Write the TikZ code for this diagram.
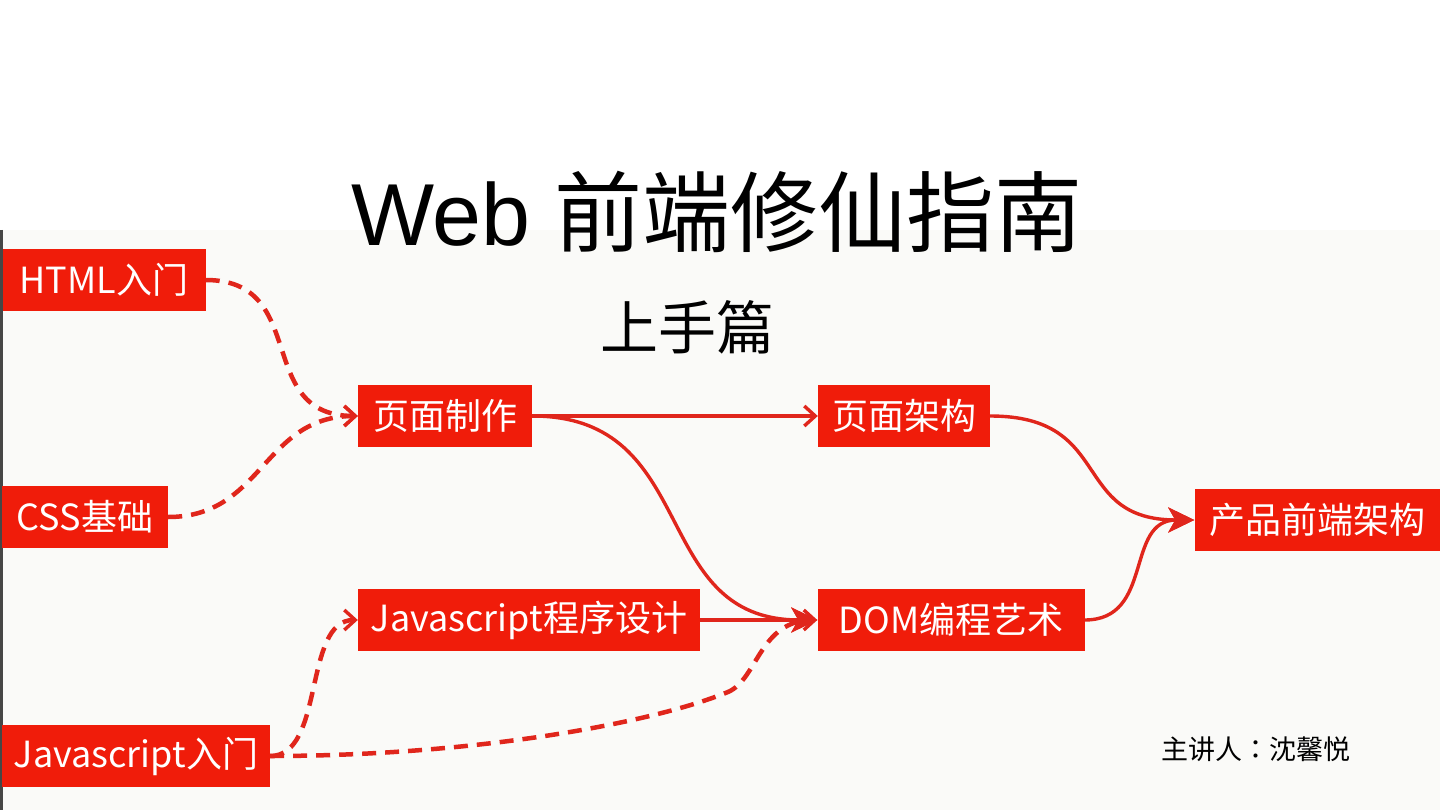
\documentclass[tikz,border=0pt]{standalone}
\usepackage{fontspec}
\setmainfont{Noto Sans CJK SC}
\newfontfamily\latinsans{Liberation Sans}
\newfontfamily\tcfont{Noto Sans CJK TC}
\usetikzlibrary{arrows.meta}
\definecolor{boxred}{RGB}{240,28,10}
\definecolor{linered}{RGB}{224,38,28}
\definecolor{bgpaper}{RGB}{250,250,248}
\definecolor{edgegray}{RGB}{70,70,70}
\begin{document}
\begin{tikzpicture}[x=1pt,y=-1pt,
  redbox/.style={fill=boxred, text=white, inner sep=0pt, minimum height=62pt,
    font=\fontsize{36}{40}\selectfont, anchor=center},
  solidlink/.style={draw=linered, line width=3.4pt},
  dashlink/.style={draw=linered, line width=4.5pt, dash pattern=on 14pt off 9pt},
  chev/.style={-{Straight Barb[length=11pt,width=20pt,line width=3.4pt]}},
  bigtip/.style={-{Stealth[length=26pt,width=25pt,inset=7pt]}}
]
\useasboundingbox (0,0) rectangle (1440,810);
\fill[white] (0,0) rectangle (1440,810);
\fill[bgpaper] (0,230) rectangle (1440,810);
\draw[edgegray, line width=3pt] (1.5,230) -- (1.5,810);

% titles
\node (title) at (717,212) {\fontsize{88}{100}\selectfont{\latinsans Web }前端修仙指南};
\node (subtitle) at (687,327) {\fontsize{58}{66}\selectfont 上手篇};
\node (speaker) at (1256,749) {\fontsize{27}{32}\selectfont 主讲人{\tcfont ：}沈馨悦};

% boxes
\node[redbox, minimum width=203pt] (html) at (104,280) {HTML入门};
\node[redbox, minimum width=166pt] (css) at (85,517) {CSS基础};
\node[redbox, minimum width=174pt] (ymzz) at (445,416) {页面制作};
\node[redbox, minimum width=342pt] (jsprog) at (529,620) {Javascript程序设计};
\node[redbox, minimum width=268pt] (jsintro) at (136,756) {Javascript入门};
\node[redbox, minimum width=172pt] (ymjg) at (904,416) {页面架构};
\node[redbox, minimum width=267pt] (dom) at (951,620) {DOM编程艺术};
\node[redbox, minimum width=245pt] (cpqd) at (1317,520) {产品前端架构};

% dashed links
\draw[dashlink, chev] (html.east) .. controls +(105,0) and +(-105,0) .. (ymzz.west);
\draw[dashlink, chev] (css.east) .. controls +(95,0) and +(-95,0) .. (ymzz.west);
\draw[dashlink, chev] (jsintro.east) .. controls +(55,0) and +(-55,0) .. (jsprog.west);
\coordinate (bend) at (728,692);
\draw[dashlink, chev] (jsintro.east) .. controls +(200,0) and +(-78,32) .. (bend)
  .. controls +(30,-13) and +(-58,0) .. (dom.west);

% solid links
\draw[solidlink, chev] (ymzz.east) -- (ymjg.west);
\draw[solidlink, bigtip] (ymzz.east) .. controls +(170,0) and +(-170,0) .. (dom.west);
\draw[solidlink, bigtip] (jsprog.east) -- (dom.west);
\draw[solidlink, bigtip] (ymjg.east) .. controls +(125,0) and +(-125,0) .. (cpqd.west);
\draw[solidlink, bigtip] (dom.east) .. controls +(70,0) and +(-70,0) .. (cpqd.west);
\end{tikzpicture}
\end{document}
